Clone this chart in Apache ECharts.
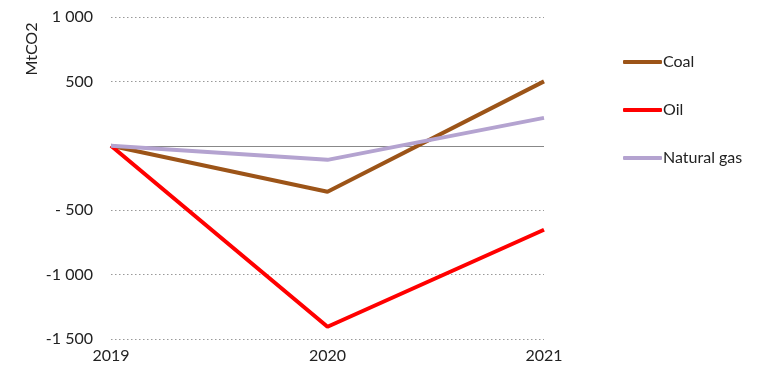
<!DOCTYPE html>
<html>
<head>
<meta charset="utf-8">
<script src="https://cdn.jsdelivr.net/npm/echarts@6/dist/echarts.min.js"></script>
<style>html,body{margin:0;padding:0;background:#fff}#c{width:768px;height:383px}</style>
</head>
<body>
<div id="c"></div>
<script>
const years = ['2019', '2020', '2021'];
const coal = [0, -357, 500];
const oil = [0, -1405, -652];
const gas = [0, -109, 217];
const yTickValues = [-1500, -1000, -500, 0, 500, 1000];
const yTickLabels = ['-1 500', '-1 000', '- 500', '', '500', '1 000'];
const yName = 'MtCO2';

const font = 'Lato, "Open Sans", sans-serif';
const chart = echarts.init(document.getElementById('c'), null, {renderer: 'canvas'});
chart.setOption({
  animation: false,
  backgroundColor: '#fff',
  grid: {left: 111, right: 224, top: 17, bottom: 44, containLabel: false},
  graphic: [{
    type: 'text', x: 32, y: 49, rotation: Math.PI / 2,
    style: {text: yName, fill: '#222', font: '16px ' + font, align: 'center', verticalAlign: 'middle'}
  }],
  xAxis: {
    type: 'category',
    data: years,
    boundaryGap: false,
    axisLine: {show: false},
    axisTick: {show: false},
    axisLabel: {color: '#222', fontSize: 16, fontFamily: font, margin: 9},
    splitLine: {show: false}
  },
  yAxis: {
    type: 'value',
    min: -1500, max: 1000, interval: 500,
    axisLine: {show: false},
    axisTick: {show: false},
    axisLabel: {
      color: '#222', fontSize: 16, fontFamily: font, margin: 18,
      formatter: v => { const i = yTickValues.indexOf(v); return i >= 0 ? yTickLabels[i] : ''; }
    },
    splitLine: {show: true, lineStyle: {color: '#999', type: [1.5, 2.5], width: 1.2}}
  },
  legend: {
    orient: 'vertical',
    left: 618, top: 49,
    itemGap: 32,
    itemWidth: 39, itemHeight: 4,
    icon: 'roundRect',
    textStyle: {color: '#222', fontSize: 16, fontFamily: font, padding: [0, 0, 0, -4]},
    data: ['Coal', 'Oil', 'Natural gas']
  },
  series: [
    {name: 'Coal', type: 'line', data: coal, symbol: 'none', lineStyle: {width: 4, color: '#9C5418'}, itemStyle: {color: '#9C5418'},
     markLine: {silent: true, symbol: 'none', label: {show: false}, lineStyle: {color: '#888', type: 'solid', width: 1.2}, data: [{yAxis: 0}], z: 1}},
    {name: 'Oil', type: 'line', data: oil, symbol: 'none', lineStyle: {width: 4, color: '#FF0000'}, itemStyle: {color: '#FF0000'}},
    {name: 'Natural gas', type: 'line', data: gas, symbol: 'none', lineStyle: {width: 4, color: '#B4A3D0'}, itemStyle: {color: '#B4A3D0'}}
  ]
});
</script>
</body>
</html>
